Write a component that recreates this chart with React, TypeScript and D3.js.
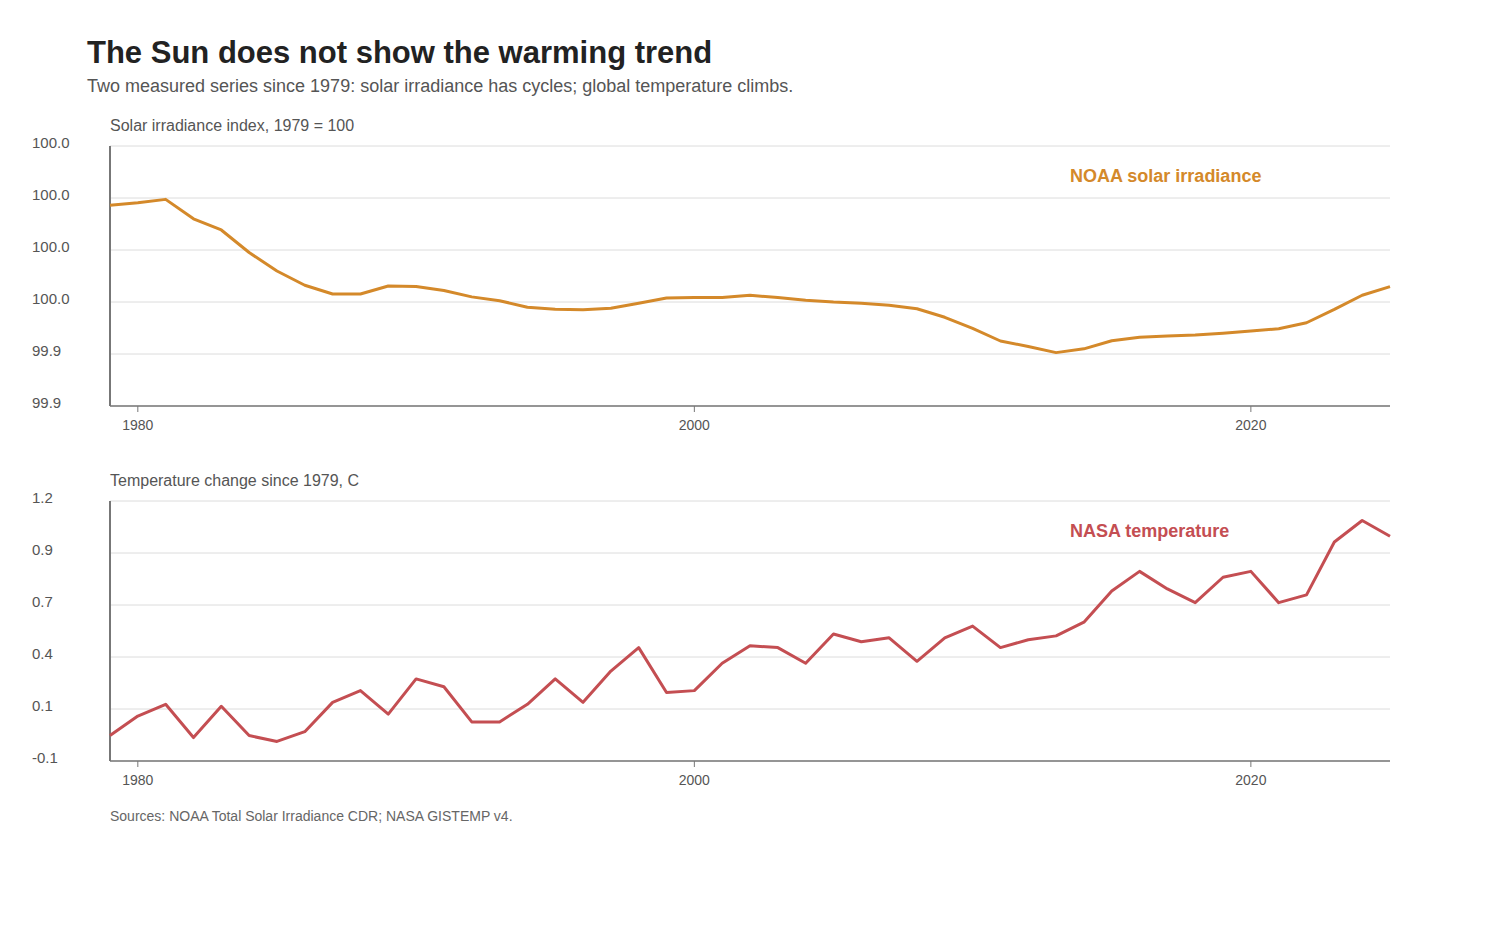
import React, { useEffect } from 'react';
import * as d3 from 'd3';

// Years shared by both panels
const years = d3.range(1979, 2026);

// NOAA total solar irradiance, indexed so 1979 = 100 (smoothed)
const solarIndex = [
  100.0, 100.0011, 100.0025, 99.9943, 99.9896, 99.9801, 99.9723, 99.9663, 99.9626, 99.9626,
  99.966, 99.9658, 99.9641, 99.9614, 99.9598, 99.957, 99.9562, 99.956, 99.9566, 99.9587,
  99.9609, 99.9611, 99.9611, 99.9621, 99.9611, 99.96, 99.9592, 99.9587, 99.9579, 99.9564,
  99.9528, 99.9481, 99.9428, 99.9405, 99.9379, 99.9395, 99.9429, 99.9444, 99.9449, 99.9453,
  99.9461, 99.947, 99.948, 99.9505, 99.9561, 99.9621, 99.9657,
];

// NASA GISTEMP global temperature, change relative to 1979 (deg C)
const tempChange = [
  0.0, 0.1, 0.16, -0.01, 0.15, 0.0, -0.03, 0.02, 0.17, 0.23,
  0.11, 0.29, 0.25, 0.07, 0.07, 0.16, 0.29, 0.17, 0.33, 0.45,
  0.22, 0.23, 0.37, 0.46, 0.45, 0.37, 0.52, 0.48, 0.5, 0.38,
  0.5, 0.56, 0.45, 0.49, 0.51, 0.58, 0.74, 0.84, 0.75, 0.68,
  0.81, 0.84, 0.68, 0.72, 0.99, 1.1, 1.02,
];

const xTickYears = [1980, 2000, 2020];

const FONT = '"Liberation Sans", Arial, Helvetica, sans-serif';
const W = 1500;
const H = 940;
const left = 110;
const right = 1390;
const panelH = 260;

interface PanelProps {
  top: number;
  values: number[];
  pad: number;
  color: string;
  heading: string;
  label: string;
}

const Panel: React.FC<PanelProps> = ({ top, values, pad, color, heading, label }) => {
  const x = d3.scaleLinear().domain([1979, 2025]).range([left, right]);
  const [lo, hi] = d3.extent(values) as [number, number];
  const y = d3.scaleLinear().domain([lo - pad, hi + pad]).range([top + panelH, top]);
  const [d0, d1] = y.domain();
  // six evenly spaced ticks across the whole domain
  const yTicks = d3.range(6).map((i) => d0 + (i * (d1 - d0)) / 5);
  const fmt = (v: number) => d3.format('.1f')(v).replace('\u2212', '-');
  const line = d3
    .line<number>()
    .x((_, i) => x(years[i]))
    .y((v) => y(v));
  const bottom = top + panelH;

  return (
    <g>
      <text x={left} y={top - 15} fontSize={16} fill="#555" fontFamily={FONT}>
        {heading}
      </text>
      {yTicks.map((t, i) => (
        <g key={i}>
          <line x1={left} x2={right} y1={y(t)} y2={y(t)} stroke="#dcdcdc" strokeWidth={1} />
          <text x={32} y={y(t) + 2} fontSize={15} fill="#555" fontFamily={FONT}>
            {fmt(t)}
          </text>
        </g>
      ))}
      <line x1={left} x2={left} y1={top} y2={bottom} stroke="#777" strokeWidth={2} />
      <line x1={left} x2={right} y1={bottom} y2={bottom} stroke="#777" strokeWidth={1.5} />
      {xTickYears.map((yr) => (
        <g key={yr}>
          <line x1={x(yr)} x2={x(yr)} y1={bottom} y2={bottom + 6} stroke="#777" strokeWidth={1} />
          <text
            x={x(yr)}
            y={bottom + 24}
            fontSize={14}
            fill="#555"
            textAnchor="middle"
            fontFamily={FONT}
          >
            {yr}
          </text>
        </g>
      ))}
      <path d={line(values) || ''} fill="none" stroke={color} strokeWidth={3} strokeLinejoin="round" />
      <text x={1070} y={top + 36} fontSize={18} fontWeight="bold" fill={color} fontFamily={FONT}>
        {label}
      </text>
    </g>
  );
};

export default function App() {
  useEffect(() => {
    document.body.style.margin = '0';
  }, []);

  return (
    <svg width={W} height={H} style={{ display: 'block', background: '#fff' }}>
      <text x={87} y={63} fontSize={31} fontWeight="bold" fill="#222" fontFamily={FONT}>
        The Sun does not show the warming trend
      </text>
      <text x={87} y={92} fontSize={18} fill="#555" fontFamily={FONT}>
        Two measured series since 1979: solar irradiance has cycles; global temperature climbs.
      </text>
      <Panel
        top={146}
        values={solarIndex}
        pad={0.0225}
        color="#d4892a"
        heading="Solar irradiance index, 1979 = 100"
        label="NOAA solar irradiance"
      />
      <Panel
        top={501}
        values={tempChange}
        pad={0.1}
        color="#c44e52"
        heading="Temperature change since 1979, C"
        label="NASA temperature"
      />
      <text x={110} y={821} fontSize={14} fill="#666" fontFamily={FONT}>
        Sources: NOAA Total Solar Irradiance CDR; NASA GISTEMP v4.
      </text>
    </svg>
  );
}
